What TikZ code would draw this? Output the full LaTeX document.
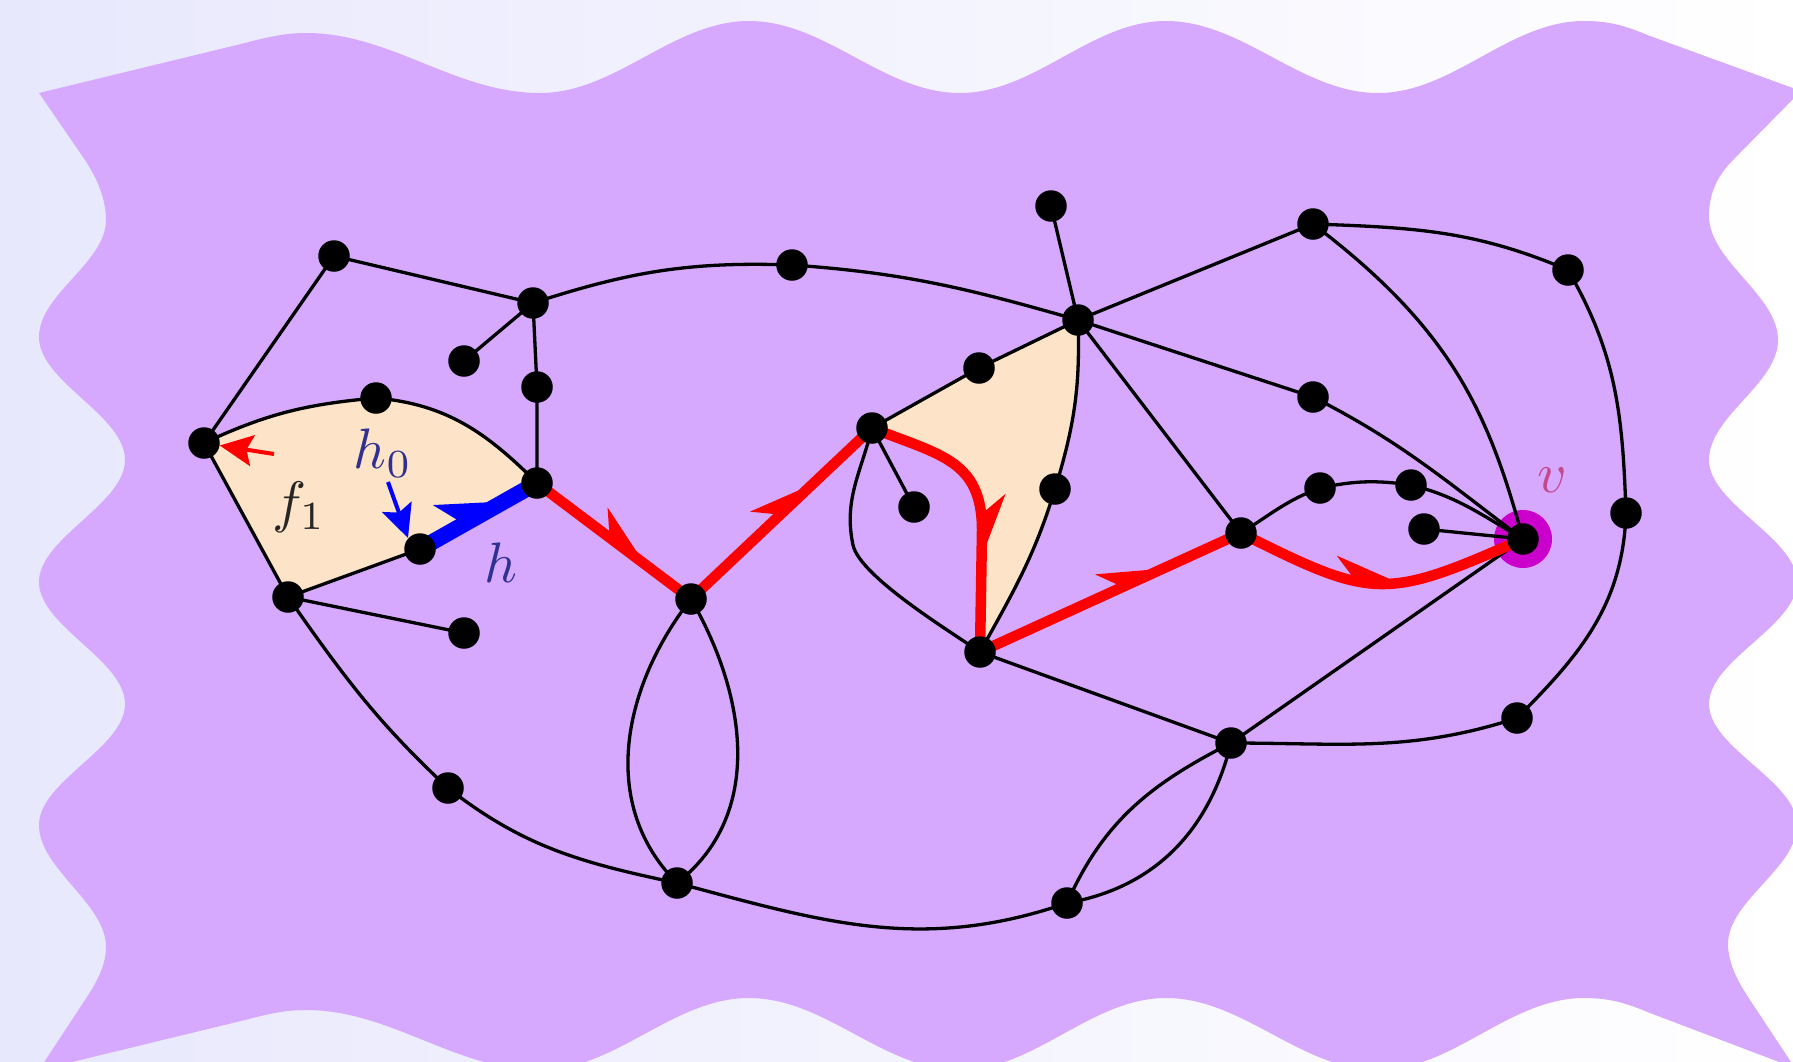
\documentclass[tikz,border=0pt]{standalone}
\usetikzlibrary{decorations.markings,arrows.meta}
\definecolor{paleleft}{RGB}{232,232,253}
\definecolor{sheet}{RGB}{214,169,254}
\definecolor{facefill}{RGB}{253,227,199}
\definecolor{halfedge}{RGB}{46,49,146}
\definecolor{vlabel}{RGB}{196,72,140}
\definecolor{vring}{RGB}{204,0,204}
\pgfdeclarelayer{backdrop}
\pgfdeclarelayer{wires}
\pgfsetlayers{backdrop,wires,main}
\tikzset{
  vtx/.style={circle,fill=black,inner sep=0pt,minimum size=31.5pt},
  wire/.style={line width=3.3pt},
  walk/.style={red,line width=10.5pt},
  redbarb/.style 2 args={postaction={decorate},decoration={markings,
      mark=at position #1 with {\fill[red,rotate=#2] (0,0) -- (-64,23) -- (-44,0) -- cycle;}}},
  bluebarb/.style={postaction={decorate},decoration={markings,
      mark=at position #1 with {\fill[blue] (0,0) -- (-64,32) -- (-46,0) -- cycle;}}},
  lbl/.style={scale=5.7,inner sep=0pt},
  pointer/.style={line width=4pt,-{Stealth[length=33pt,width=31pt,inset=6pt]}},
}
\begin{document}
\begin{tikzpicture}[x=1pt,y=1pt]
\useasboundingbox (0,-1061) rectangle (1793,0);

% vertices
\node[vtx] (A) at (334,-256) {};
\node[vtx] (B) at (533,-303) {};
\node[vtx] (C) at (464,-361) {};
\node[vtx] (D) at (537,-387) {};
\node[vtx] (E) at (376,-398) {};
\node[vtx] (F) at (204,-443) {};
\node[vtx] (G) at (537,-483) {};
\node[vtx] (H) at (420,-549) {};
\node[vtx] (I) at (288,-597) {};
\node[vtx] (J) at (464,-633) {};
\node[vtx] (K) at (448,-788) {};
\node[vtx] (L) at (691,-599) {};
\node[vtx] (M) at (677,-883) {};
\node[vtx] (N) at (792,-265) {};
\node[vtx] (O) at (1051,-206) {};
\node[vtx] (P) at (1078,-320) {};
\node[vtx] (Q) at (979,-368) {};
\node[vtx] (R) at (872,-428) {};
\node[vtx] (S) at (914,-507) {};
\node[vtx] (T) at (1055,-489) {};
\node[vtx] (U) at (980,-652) {};
\node[vtx] (V) at (1313,-224) {};
\node[vtx] (W) at (1568,-270) {};
\node[vtx] (X) at (1313,-397) {};
\node[vtx] (Y) at (1241,-533) {};
\node[vtx] (Z) at (1320,-488) {};
\node[vtx] (AA) at (1411,-485) {};
\node[vtx] (AB) at (1424,-529) {};
\node[vtx] (v) at (1523,-539) {};
\node[vtx] (AC) at (1626,-513) {};
\node[vtx] (AD) at (1517,-718) {};
\node[vtx] (AE) at (1231,-743) {};
\node[vtx] (AF) at (1067,-903) {};

\begin{pgfonlayer}{backdrop}
  \shade[left color=paleleft,right color=white] (0,-1061) rectangle (1793,0);
  \begin{scope}
    \clip (0,-1061) rectangle (1793,0);
    % the wavy sheet
    \fill[sheet] (39,-93) -- (245,-43) .. controls (275,-35) and (290,-33) .. (306,-33)
      .. controls (391,-33) and (455,-93) .. (540,-93)
      .. controls (616,-93) and (673,-21) .. (749,-21)
      .. controls (826,-21) and (883,-93) .. (960,-93)
      .. controls (1035,-93) and (1091,-21) .. (1166,-21)
      .. controls (1243,-21) and (1301,-93) .. (1378,-93)
      .. controls (1453,-93) and (1509,-21) .. (1584,-21)
      .. controls (1612,-21) and (1628,-27) .. (1650,-36)
      -- (1801,-91)
      -- (1733,-160) .. controls (1716,-177) and (1709,-195) .. (1709,-216)
      .. controls (1709,-261) and (1778,-295) .. (1778,-340)
      .. controls (1778,-384) and (1709,-416) .. (1709,-460)
      .. controls (1709,-504) and (1797,-538) .. (1797,-582)
      .. controls (1797,-626) and (1709,-660) .. (1709,-704)
      .. controls (1709,-748) and (1797,-781) .. (1797,-825)
      .. controls (1797,-868) and (1728,-901) .. (1728,-944)
      .. controls (1728,-965) and (1740,-985) .. (1750,-1000)
      -- (1795,-1068)
      -- (1650,-1013) .. controls (1628,-1004) and (1612,-998) .. (1584,-998)
      .. controls (1509,-998) and (1453,-1070) .. (1378,-1070)
      .. controls (1301,-1070) and (1243,-998) .. (1166,-998)
      .. controls (1091,-998) and (1035,-1070) .. (960,-1070)
      .. controls (883,-1070) and (826,-998) .. (749,-998)
      .. controls (673,-998) and (616,-1070) .. (540,-1070)
      .. controls (455,-1070) and (391,-1010) .. (306,-1010)
      .. controls (290,-1010) and (275,-1012) .. (245,-1020)
      -- (39,-1070)
      -- (85,-1000) .. controls (97,-982) and (106,-965) .. (106,-947)
      .. controls (106,-903) and (39,-869) .. (39,-825)
      .. controls (39,-781) and (125,-748) .. (125,-704)
      .. controls (125,-660) and (39,-626) .. (39,-582)
      .. controls (39,-538) and (125,-504) .. (125,-460)
      .. controls (125,-415) and (39,-382) .. (39,-337)
      .. controls (39,-294) and (106,-263) .. (106,-220)
      .. controls (106,-199) and (97,-178) .. (85,-160)
      -- cycle;
  \end{scope}
  % shaded faces
  \fill[facefill] (F.center) to[out=25,in=185] (E.center) to[out=-5,in=135] (G.center)
    -- (H.center) -- (I.center) -- cycle;
  \fill[facefill] (R.center) -- (Q.center) -- (P.center) to[out=-88,in=73] (T.center)
    to[out=-107,in=61] (U.center) -- (982,-530) .. controls (982,-460) and (940,-455) .. (R.center) -- cycle;
  % ring around v
  \node[circle,fill=vring,inner sep=0pt,minimum size=58pt] (vr) at (v) {};
\end{pgfonlayer}

\begin{pgfonlayer}{wires}
  \draw[wire] (A.center) -- (F.center);
  \draw[wire] (A.center) -- (B.center);
  \draw[wire] (B.center) -- (C.center);
  \draw[wire] (B.center) -- (D.center) -- (G.center);
  \draw[wire] (B.center) to[out=18,in=178] (N.center) to[out=-4,in=164] (P.center);
  \draw[wire] (F.center) to[out=25,in=185] (E.center) to[out=-5,in=135] (G.center);
  \draw[wire] (F.center) -- (I.center);
  \draw[wire] (I.center) -- (H.center);
  \draw[wire] (I.center) -- (J.center);
  \draw[wire] (I.center) to[out=-55,in=137] (K.center) to[out=-38,in=168] (M.center);
  \draw[wire] (L.center) to[out=232,in=135] (M.center);
  \draw[wire] (L.center) to[out=-60,in=38] (M.center);
  \draw[wire] (M.center) to[out=-15,in=199] (AF.center);
  \draw[wire] (R.center) -- (Q.center) -- (P.center);
  \draw[wire] (R.center) -- (S.center);
  \draw[wire] (R.center) to[out=-104,in=102] (853,-545) to[out=-78,in=145,looseness=0.5] (U.center);
  \draw[wire] (P.center) -- (O.center);
  \draw[wire] (P.center) -- (V.center);
  \draw[wire] (P.center) -- (X.center);
  \draw[wire] (P.center) -- (Y.center);
  \draw[wire] (P.center) to[out=-88,in=73] (T.center) to[out=-107,in=61] (U.center);
  \draw[wire] (V.center) to[out=-2,in=157] (W.center);
  \draw[wire] (V.center) .. controls (1450,-328) and (1488,-410) .. (v.center);
  \draw[wire] (W.center) to[out=-60,in=92] (AC.center) to[out=-92,in=45] (AD.center);
  \draw[wire] (AD.center) to[out=198,in=0] (AE.center);
  \draw[wire] (X.center) to[out=-27,in=143] (v.center);
  \draw[wire] (Y.center) to[out=32,in=200] (Z.center) to[out=12,in=172] (AA.center)
    to[out=-14,in=150] (v.center);
  \draw[wire] (AB.center) -- (v.center);
  \draw[wire] (v.center) -- (AE.center);
  \draw[wire] (U.center) -- (AE.center);
  \draw[wire] (AE.center) to[out=207,in=66] (AF.center);
  \draw[wire] (AE.center) to[out=256,in=10] (AF.center);
  % the red walk towards v
  \draw[walk,redbarb={0.70}{0}] (G.center) -- (L.center);
  \draw[walk,redbarb={0.67}{0}] (L.center) -- (R.center);
  \draw[walk,redbarb={0.67}{0}] (R.center) .. controls (940,-455) and (982,-460) .. (982,-530) -- (U.center);
  \draw[walk,redbarb={0.70}{0}] (U.center) -- (Y.center);
  \draw[walk,redbarb={0.56}{-11}] (Y.center) .. controls (1374,-600) and (1385,-600) .. (v.center);
  % half-edge h
  \draw[blue,line width=16pt,bluebarb=0.72] (H.center) -- (G.center);
\end{pgfonlayer}

% pointers and labels
\coordinate (rp) at (274,-454);
\draw[pointer,red] (rp) -- (F);
\coordinate (bp) at (388,-482);
\coordinate (bq) at (408,-538);
\draw[pointer,blue] (bp) -- (bq);
\node[lbl,text=black!85] (f1) at (299,-507) {$f_1$};
\node[lbl,text=halfedge] (h0) at (383,-453) {$h_0$};
\node[lbl,text=halfedge] (hl) at (501,-563) {$h$};
\node[lbl,text=vlabel] (vl) at (1552,-480) {$v$};
\end{tikzpicture}
\end{document}
